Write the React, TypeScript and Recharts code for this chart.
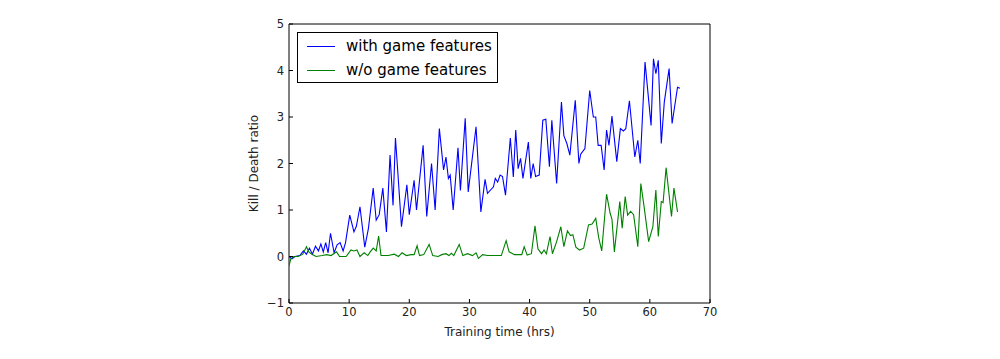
import { LineChart, Line, XAxis, YAxis, ReferenceArea } from "recharts";

// kill/death ratio over training time
const withTimes = [
  0, 0.5, 1, 1.8, 2.4, 2.9, 3.4, 3.9, 4.4, 4.9, 5.3, 5.7, 6.1, 6.5, 6.9, 7.5, 8.0, 8.5, 9.0, 9.4,
  10.1, 10.8, 11.2, 11.8, 12.6, 13.2, 14.0, 14.5, 15.0, 15.6, 16.2, 16.8, 17.3, 17.7, 18.1, 18.7,
  19.6, 20.0, 20.8, 21.2, 22.3, 22.9, 23.7, 24.3, 25.0, 25.7, 26.1, 26.5, 26.8, 27.3, 28.1, 28.5,
  29.3, 29.8, 31.1, 31.9, 32.6, 33.0, 34.0, 34.3, 34.7, 35.1, 35.5, 36.0, 36.8, 37.3, 37.7, 38.1,
  38.5, 38.9, 39.8, 40.2, 40.6, 41.0, 41.6, 42.2, 42.7, 43.3, 43.7, 44.5, 45.3, 45.7, 46.2, 46.7,
  47.6, 48.2, 48.5, 49.2, 50.0, 50.6, 51.0, 51.4, 51.9, 52.4, 52.8, 53.2, 53.7, 54.5, 55.1, 55.6,
  56.0, 56.6, 57.5, 58.0, 58.4, 59.2, 60.2, 60.6, 61.0, 61.4, 61.9, 62.4, 63.2, 63.7, 64.6, 65.0,
];
const withValues = [
  0.0, -0.05, 0.0, 0.02, 0.12, 0.05, 0.18, 0.05, 0.22, 0.12, 0.27, 0.1, 0.3, 0.08, 0.5, 0.08, 0.25, 0.3, 0.12, 0.3,
  0.89, 0.53, 0.65, 1.07, 0.2, 0.6, 1.47, 0.78, 0.9, 1.47, 0.53, 2.18, 1.1, 2.55, 1.8, 0.64,
  1.54, 0.9, 1.64, 1.0, 2.39, 0.86, 2.0, 1.0, 2.75, 1.86, 2.14, 1.68, 1.75, 1.0, 2.34, 1.42,
  2.97, 1.39, 2.79, 0.96, 1.66, 1.36, 1.5, 1.68, 1.6, 1.75, 1.72, 1.32, 2.55, 1.71, 2.72, 1.89,
  2.11, 1.68, 2.46, 1.68, 2.0, 1.72, 1.75, 2.93, 2.95, 1.93, 2.93, 1.57, 3.32, 2.6, 2.43, 2.18,
  3.36, 2.0, 2.2, 2.32, 3.57, 3.0, 3.0, 2.39, 2.39, 1.86, 2.72, 2.39, 3.02, 2.04, 2.75, 2.7,
  2.75, 3.35, 2.14, 2.5, 2.0, 4.18, 2.82, 4.25, 3.93, 4.22, 2.43, 3.32, 4.04, 2.86, 3.64, 3.62,
];

const withoutTimes = [
  0, 0.3, 0.8, 1.5, 2.3, 2.9, 3.3, 3.8, 4.5, 5.5, 6.3, 7.0, 7.9, 8.4, 9.5, 10.3, 10.8, 11.3, 11.8,
  12.5, 13.1, 13.5, 14.0, 14.5, 14.9, 15.3, 16.5, 17.5, 18.2, 18.8, 19.5, 20.3, 20.8, 21.3, 21.7,
  22.4, 23.3, 23.9, 24.8, 25.4, 26.1, 26.6, 27.0, 27.4, 28.3, 28.9, 29.7, 30.5, 31.1, 31.5, 32.2,
  33.0, 34.5, 35.3, 36.1, 36.6, 37.5, 38.0, 38.7, 39.1, 39.6, 40.3, 40.9, 41.4, 42.0, 42.4, 42.8,
  43.4, 43.8, 44.5, 45.2, 45.7, 46.3, 46.8, 47.2, 47.7, 48.3, 49.0, 49.8, 50.4, 51.0, 51.5, 52.0,
  52.8, 53.4, 53.7, 54.1, 55.0, 55.4, 55.9, 56.3, 56.8, 57.3, 58.0, 58.5, 59.0, 59.8, 60.5, 61.0,
  61.4, 61.9, 62.2, 62.7, 63.6, 64.0, 64.6,
];
const withoutValues = [
  -0.2, -0.05, 0.0, 0.0, 0.05, 0.21, 0.1, 0.05, 0.0, 0.02, 0.04, 0.02, 0.1, 0.0, 0.0, 0.14, 0.12, 0.14, 0.0,
  0.08, 0.02, 0.1, 0.18, 0.12, 0.44, 0.02, 0.02, 0.05, 0.0, 0.08, 0.02, 0.04, 0.04, 0.23, 0.02,
  0.04, 0.26, 0.02, 0.0, 0.04, 0.06, 0.02, 0.07, 0.02, 0.26, 0.02, 0.06, 0.02, 0.08, -0.04, 0.04,
  0.02, 0.02, 0.02, 0.34, 0.1, 0.04, 0.04, 0.04, 0.21, 0.03, 0.06, 0.66, 0.16, 0.06, 0.14, 0.06,
  0.43, 0.06, 0.32, 0.64, 0.21, 0.55, 0.45, 0.47, 0.2, 0.14, 0.18, 0.68, 0.7, 0.82, 0.4, 0.12,
  1.34, 0.93, 0.8, 0.1, 1.18, 0.61, 1.29, 0.89, 0.97, 0.9, 0.21, 1.57, 1.11, 0.32, 0.64, 1.43,
  0.43, 1.18, 1.16, 1.91, 0.86, 1.47, 0.96,
];

const xTicks = [0, 10, 20, 30, 40, 50, 60, 70];
const yTicks = [-1, 0, 1, 2, 3, 4, 5];

const series = [
  { name: "with game features", color: "#0000ff" },
  { name: "w/o game features", color: "#008000" },
];

const FONT = "'DejaVu Sans', sans-serif";
const TICK_LEN = 4;
const labelStyle = { fontSize: 11.5, fill: "#222", fontFamily: FONT };

const fmt = (v: number) => (v < 0 ? `\u2212${Math.abs(v)}` : `${v}`);

// matplotlib-style ticks: mark points into the plot, label sits outside.
// tickSize and tickMargin are 0, so x/y given here are the axis line itself.
function BottomTick({ x, y, payload }: any) {
  return (
    <g>
      <line x1={x} x2={x} y1={y} y2={y - TICK_LEN} stroke="#000" strokeWidth={1} />
      <text x={x} y={y + 4} dy="0.76em" textAnchor="middle" style={labelStyle}>
        {fmt(payload.value)}
      </text>
    </g>
  );
}

function LeftTick({ x, y, payload }: any) {
  return (
    <g>
      <line x1={x} x2={x + TICK_LEN} y1={y} y2={y} stroke="#000" strokeWidth={1} />
      <text x={x - 5} y={y} dy="0.36em" textAnchor="end" style={labelStyle}>
        {fmt(payload.value)}
      </text>
    </g>
  );
}

function TopTick({ x, y }: any) {
  return <line x1={x} x2={x} y1={y} y2={y + TICK_LEN} stroke="#000" strokeWidth={1} />;
}

function RightTick({ x, y }: any) {
  return <line x1={x} x2={x - TICK_LEN} y1={y} y2={y} stroke="#000" strokeWidth={1} />;
}

function LegendBox() {
  return (
    <div
      style={{
        position: "absolute",
        left: 297,
        top: 32,
        border: "1px solid #000",
        background: "#fff",
        width: 199,
        height: 49,
        fontFamily: FONT,
        fontSize: 15,
        color: "#000",
      }}
    >
      {series.map((s, i) => (
        <div key={s.name} style={{ display: "flex", alignItems: "center", height: 24, marginTop: i === 0 ? 1 : 0 }}>
          <div style={{ width: 28, height: 0, borderTop: `1.2px solid ${s.color}`, marginLeft: 9, marginRight: 11 }} />
          <span style={{ whiteSpace: "nowrap" }}>{s.name}</span>
        </div>
      ))}
    </div>
  );
}

export default function App() {
  const withData = withTimes.map((t, i) => ({ t, v: withValues[i] }));
  const withoutData = withoutTimes.map((t, i) => ({ t, v: withoutValues[i] }));

  return (
    <div style={{ position: "absolute", left: 0, top: 0, width: 1000, height: 359, background: "#fff" }}>
      <LineChart width={1000} height={359} margin={{ top: 23, right: 289, bottom: 15, left: 239 }}>
        <XAxis
          dataKey="t"
          type="number"
          domain={[0, 70]}
          ticks={xTicks}
          allowDataOverflow
          axisLine={false}
          tickLine={false}
          tickSize={0}
          tickMargin={0}
          height={41}
          tick={<BottomTick />}
          label={{
            value: "Training time (hrs)",
            position: "insideBottom",
            offset: 8,
            style: { fontSize: 12, fill: "#222", fontFamily: FONT },
          }}
        />
        <XAxis
          xAxisId="top"
          orientation="top"
          dataKey="t"
          type="number"
          domain={[0, 70]}
          ticks={xTicks}
          axisLine={false}
          tickLine={false}
          tickSize={0}
          tickMargin={0}
          height={1}
          tick={<TopTick />}
        />
        <YAxis
          type="number"
          domain={[-1, 5]}
          ticks={yTicks}
          allowDataOverflow
          axisLine={false}
          tickLine={false}
          tickSize={0}
          tickMargin={0}
          width={50}
          tick={<LeftTick />}
          label={{
            content: (p: any) => {
              const vb = p.viewBox;
              const cx = vb.x + 15;
              const cy = vb.y + vb.height / 2;
              return (
                <text
                  x={cx}
                  y={cy}
                  transform={`rotate(-90 ${cx} ${cy})`}
                  textAnchor="middle"
                  dominantBaseline="central"
                  style={{ fontSize: 12, fill: "#222", fontFamily: FONT }}
                >
                  Kill / Death ratio
                </text>
              );
            },
          }}
        />
        <YAxis
          yAxisId="right"
          orientation="right"
          type="number"
          domain={[-1, 5]}
          ticks={yTicks}
          axisLine={false}
          tickLine={false}
          tickSize={0}
          tickMargin={0}
          width={1}
          tick={<RightTick />}
        />
        <ReferenceArea x1={0} x2={70} y1={-1} y2={5} fill="none" stroke="#000" strokeWidth={1} />
        <Line
          data={withData}
          dataKey="v"
          name={series[0].name}
          stroke={series[0].color}
          strokeWidth={1.1}
          dot={false}
          isAnimationActive={false}
        />
        <Line
          data={withoutData}
          dataKey="v"
          name={series[1].name}
          stroke={series[1].color}
          strokeWidth={1.1}
          dot={false}
          isAnimationActive={false}
        />
      </LineChart>
      <LegendBox />
    </div>
  );
}
